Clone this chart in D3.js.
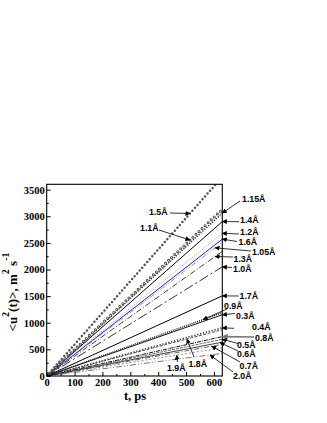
<!DOCTYPE html>
<html>
<head>
<meta charset="utf-8">
<script src="https://cdn.jsdelivr.net/npm/d3@7"></script>
<style>
  html, body { margin: 0; padding: 0; background: #fff; }
  svg { display: block; }
</style>
</head>
<body>
<svg id="chart" width="327" height="423"></svg>
<script>
// ---------- DATA ----------
const times = [0, 630];
const seriesNames = ["2.0Å","1.9Å","0.7Å","0.6Å","0.5Å","0.8Å","1.8Å","0.4Å","0.3Å","0.9Å","1.7Å",
                     "1.0Å","1.3Å","1.05Å","1.6Å","1.2Å","1.4Å","1.15Å","1.1Å","1.5Å"];
const seriesValues = [
  [0, 425], [0, 530], [0, 595], [0, 635], [0, 690], [0, 740], [0, 870], [0, 905], [0, 1150], [0, 1190], [0, 1505],
  [0, 2050], [0, 2340], [0, 2510], [0, 2570], [0, 2680], [0, 2900], [0, 3060], [0, 3130], [0, 3740]
];
const xTicks = [0, 100, 200, 300, 400, 500, 600];
const yTicks = [0, 500, 1000, 1500, 2000, 2500, 3000, 3500];

// ---------- STYLES (by series name) ----------
const styles = {
  "2.0Å": {c:"#555", w:0.8, d:"6 2 1 2 1 2"},
  "1.9Å": {c:"#777", w:0.8, d:"2 2"},
  "0.7Å": {c:"#444", w:0.8, d:"5 2 1 2"},
  "0.6Å": {c:"#111", w:0.8, d:null},
  "0.5Å": {c:"#666", w:1, d:"3 1"},
  "0.8Å": {c:"#111", w:1, d:"4 1 1 1"},
  "1.8Å": {c:"#555", w:1, d:"3 1.5"},
  "0.4Å": {c:"#333", w:1.6, d:"1.2 1.8"},
  "0.3Å": {c:"#000", w:0.9, d:null},
  "0.9Å": {c:"#222", w:1.5, d:"1 1"},
  "1.7Å": {c:"#000", w:1, d:null},
  "1.0Å": {c:"#000", w:0.8, d:"10 3 2 3"},
  "1.3Å": {c:"#111", w:0.8, d:"6 2 1 2"},
  "1.05Å": {c:"#777", w:0.8, d:"5 2 1 2 1 2"},
  "1.6Å": {c:"#2222dd", w:1, d:null},
  "1.2Å": {c:"#888", w:0.8, d:"1 1.5"},
  "1.4Å": {c:"#000", w:1, d:null},
  "1.15Å": {c:"#333", w:1.6, d:"0 2.6", cap:"round"},
  "1.1Å": {c:"#444", w:3, d:"0 4.2", cap:"round", hollow:true},
  "1.5Å": {c:"#555", w:2.5, d:"0 3.8", cap:"round"}
};

// ---------- ANNOTATIONS (layout) ----------
const annotations = [
  {s:"1.5Å", t:514, lx:149, ly:215, tx:170, ty:213},
  {s:"1.1Å", t:514, lx:140, ly:231, tx:159, ty:230},
  {s:"1.15Å", t:630, lx:242, ly:202, tx:240, ty:201},
  {s:"1.4Å", t:630, lx:240, ly:222.5, tx:239, ty:221.7},
  {s:"1.2Å", t:630, lx:240, ly:235, tx:239, ty:234},
  {s:"1.6Å", t:630, lx:238.5, ly:245, tx:237, ty:241.5},
  {s:"1.05Å", t:604, lx:252, ly:255, tx:251, ty:251},
  {s:"1.3Å", t:604, lx:233.5, ly:261.5, tx:233, ty:257},
  {s:"1.0Å", t:630, lx:233, ly:271.5, tx:232, ty:267.5},
  {s:"1.7Å", t:630, lx:239.5, ly:298.5, tx:238.5, ty:296},
  {s:"0.9Å", t:561, lx:224, ly:308.5, tx:227, ty:309},
  {s:"0.3Å", t:630, lx:236, ly:319, tx:235, ty:313.5},
  {s:"0.4Å", t:630, lx:252, ly:330, tx:234, ty:328.3},
  {s:"0.8Å", t:630, lx:255, ly:340.5, tx:254, ty:337, gray:true},
  {s:"0.5Å", t:630, lx:237, ly:348, tx:238, ty:343.5},
  {s:"0.6Å", t:622, lx:237, ly:356.5, tx:238, ty:351},
  {s:"0.7Å", t:592, lx:239.5, ly:368.5, tx:240, ty:362},
  {s:"2.0Å", t:586, lx:233, ly:378.5, tx:233, ty:372},
  {s:"1.8Å", t:503, lx:188.5, ly:366.5, tx:194, ty:357},
  {s:"1.9Å", t:466, lx:167, ly:370.5, tx:177.5, ty:362}
];

// ---------- LAYOUT ----------
const svg = d3.select("#chart");
const m = {left: 46.7, right: 222.3, top: 184.3, bottom: 376};

const x = d3.scaleLinear().domain([0, 630]).range([m.left, m.right]);
const y = d3.scaleLinear().domain([0, 3600]).range([m.bottom, m.top]);

const defs = svg.append("defs");
defs.append("clipPath").attr("id", "clip")
  .append("rect").attr("x", m.left).attr("y", m.top)
  .attr("width", m.right - m.left).attr("height", m.bottom - m.top);

defs.append("marker")
  .attr("id", "arr").attr("viewBox", "0 0 10 10").attr("refX", 9).attr("refY", 5)
  .attr("markerWidth", 5).attr("markerHeight", 5).attr("markerUnits", "userSpaceOnUse")
  .attr("orient", "auto")
  .append("path").attr("d", "M0,0 L10,5 L0,10 z").attr("fill", "#000");
defs.append("marker")
  .attr("id", "arrg").attr("viewBox", "0 0 10 10").attr("refX", 9).attr("refY", 5)
  .attr("markerWidth", 6).attr("markerHeight", 6).attr("markerUnits", "userSpaceOnUse")
  .attr("orient", "auto")
  .append("path").attr("d", "M0,0 L10,5 L0,10 z").attr("fill", "#777");

// ---------- LINES ----------
const line = d3.line().x((d, i) => x(times[i])).y(d => y(d));
const gLines = svg.append("g").attr("clip-path", "url(#clip)");

seriesNames.forEach((name, i) => {
  const st = styles[name];
  const p = gLines.append("path")
    .attr("d", line(seriesValues[i]))
    .attr("fill", "none")
    .attr("stroke", st.c)
    .attr("stroke-width", st.w)
    .attr("stroke-linecap", st.cap || "butt");
  if (st.d) p.attr("stroke-dasharray", st.d);
  if (st.hollow) {
    gLines.append("path")
      .attr("d", line(seriesValues[i]))
      .attr("fill", "none")
      .attr("stroke", "#fff")
      .attr("stroke-width", st.w - 1.8)
      .attr("stroke-linecap", "round")
      .attr("stroke-dasharray", st.d);
  }
});

// ---------- AXES ----------
const axisFont = "'Liberation Serif', 'Times New Roman', serif";

const gx = svg.append("g").attr("transform", `translate(0,${m.bottom})`)
  .call(d3.axisBottom(x).tickValues(xTicks).tickSize(-4).tickPadding(3).tickFormat(d3.format("d")));
const gxMinor = svg.append("g").attr("transform", `translate(0,${m.bottom})`)
  .call(d3.axisBottom(x).tickValues(d3.range(50, 630, 100)).tickSize(-2).tickFormat(""));
const gy = svg.append("g").attr("transform", `translate(${m.left},0)`)
  .call(d3.axisLeft(y).tickValues(yTicks).tickSize(-4).tickPadding(2).tickFormat(d3.format("d")));
const gyMinor = svg.append("g").attr("transform", `translate(${m.left},0)`)
  .call(d3.axisLeft(y).tickValues(d3.range(250, 3600, 500)).tickSize(-2).tickFormat(""));

[gx, gxMinor, gy, gyMinor].forEach(g => {
  g.select(".domain").remove();
  g.selectAll("line").attr("stroke", "#000").attr("stroke-width", 1);
  g.selectAll("text").attr("font-family", axisFont).attr("font-weight", "bold")
    .attr("font-size", 10.5).attr("fill", "#000");
});

// frame
svg.append("rect").attr("x", m.left).attr("y", m.top)
  .attr("width", m.right - m.left).attr("height", m.bottom - m.top)
  .attr("fill", "none").attr("stroke", "#000").attr("stroke-width", 1.1);

// axis titles
svg.append("text").attr("x", 135).attr("y", 400)
  .attr("text-anchor", "middle").attr("font-family", axisFont)
  .attr("font-weight", "bold").attr("font-size", 12.5).text("t, ps");

const yt = svg.append("text")
  .attr("transform", "translate(17,292) rotate(-90)")
  .attr("text-anchor", "middle").attr("font-family", axisFont)
  .attr("font-weight", "bold").attr("font-size", 13);
yt.append("tspan").text("<u");
yt.append("tspan").attr("dy", -8).attr("font-size", 10).text("2");
yt.append("tspan").attr("dy", 8).text("(t)>, m");
yt.append("tspan").attr("dy", -8).attr("font-size", 10).text("2");
yt.append("tspan").attr("dy", 8).text(" s");
yt.append("tspan").attr("dy", -8).attr("font-size", 10).text("-1");

// ---------- ANNOTATIONS ----------
const gAnn = svg.append("g");
annotations.forEach(a => {
  const idx = seriesNames.indexOf(a.s);
  const v = d3.scaleLinear().domain(times).range(seriesValues[idx])(a.t);
  const px = x(a.t), py = y(v);
  gAnn.append("line")
    .attr("x1", a.tx).attr("y1", a.ty).attr("x2", px).attr("y2", py)
    .attr("stroke", a.gray ? "#777" : "#000").attr("stroke-width", a.gray ? 1.6 : 0.8)
    .attr("marker-end", a.gray ? "url(#arrg)" : "url(#arr)");
  gAnn.append("text")
    .attr("x", a.lx).attr("y", a.ly)
    .attr("font-family", "'Liberation Sans', Arial, sans-serif")
    .attr("font-weight", "bold").attr("font-size", 8.8).attr("fill", "#000")
    .text(a.s);
});
</script>
</body>
</html>
